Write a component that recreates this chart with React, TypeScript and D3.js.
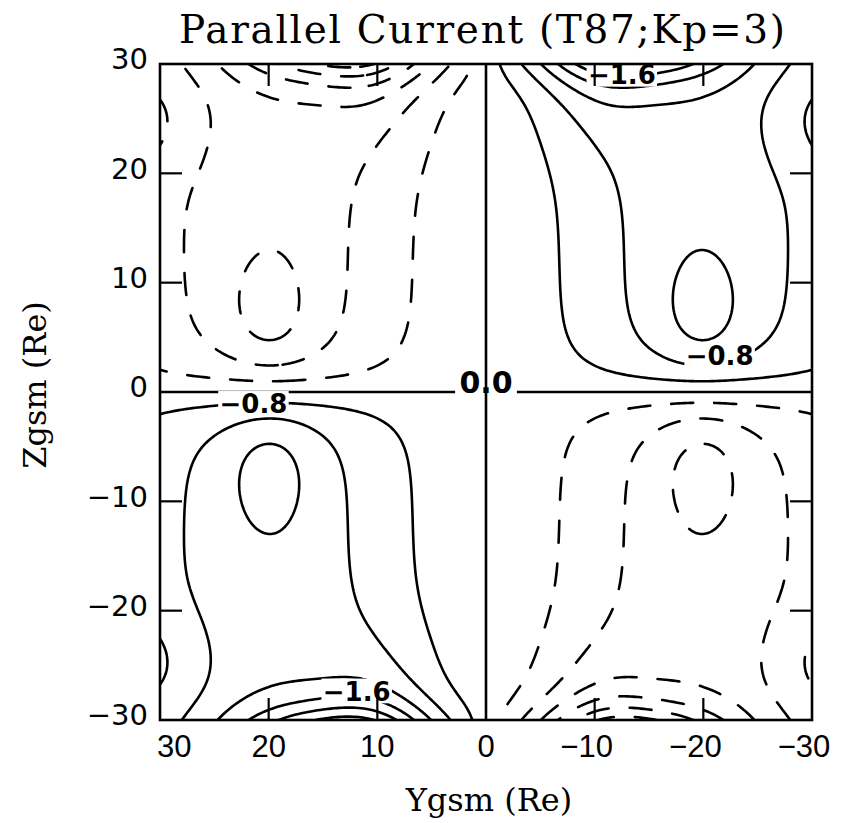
import React from "react";
import * as d3 from "d3";

// ---- texts ----
const titleText = "Parallel Current (T87;Kp=3)";
const xTitle = "Ygsm (Re)";
const yTitle = "Zgsm (Re)";

// ---- axes ----
const yTicksValues = [30, 20, 10, 0, -10, -20, -30]; // Ygsm (reversed axis)
const zTicksValues = [30, 20, 10, 0, -10, -20, -30]; // Zgsm

// ---- contour levels (zero level drawn along the axes) ----
const contourLevels = [-2.4, -2.0, -1.6, -1.2, -0.8, -0.4, 0.4, 0.8, 1.2, 1.6, 2.0, 2.4];

// ---- field sources (in |Y|, |Z| of one quadrant) ----
const srcY = [19.5, 20, 13.5, 10, 30, 31.5];
const srcZ = [15, 7.5, 33, 31, 25, 24];
const srcAmp = [1.05, 0.42, 2.4, 0.55, -0.3, -0.1];
const srcWidthYInner = [13, 3.5, 9.5, 6, 5, 2];
const srcWidthYOuter = [16, 3.5, 9, 5, 5, 2];
const srcWidthZ = [1000, 5.5, 4, 8, 5, 3];
const edgeScaleY = [1.0];
const edgeScaleZ = [2.3];

// ---- contour labels ----
const labelText = ["\u22120.8", "\u22121.6", "\u22120.8", "\u22121.6", "0.0"];
const labelY = [-21.5, -12.5, 21.4, 11.9, 0];
const labelZ = [3.3, 29.0, -1.1, -27.4, 0.9];

function magnitude(u: number, v: number): number {
  let s = 0;
  for (let k = 0; k < srcY.length; k++) {
    const du = u - srcY[k];
    const wu = du < 0 ? srcWidthYInner[k] : srcWidthYOuter[k];
    const dv = v - srcZ[k];
    s += srcAmp[k] * Math.exp(-(du / wu) * (du / wu) - (dv / srcWidthZ[k]) * (dv / srcWidthZ[k]));
  }
  return Math.tanh(u / edgeScaleY[0]) * (1 - Math.exp(-v / edgeScaleZ[0])) * s;
}

function field(Y: number, Z: number): number {
  return Math.sign(Y) * Math.sign(Z) * magnitude(Math.abs(Y), Math.abs(Z));
}

export default function App() {
  const W = 855;
  const H = 823;
  const left = 160, right = 812, top = 64, bottom = 720;
  const x = d3.scaleLinear().domain([30, -30]).range([left, right]);
  const y = d3.scaleLinear().domain([30, -30]).range([top, bottom]);

  const n = 241;
  const step = 60 / (n - 1);
  const values: number[] = new Array(n * n);
  for (let j = 0; j < n; j++) {
    const Z = 30 - j * step;
    for (let i = 0; i < n; i++) {
      const Y = 30 - i * step;
      values[j * n + i] = field(Y, Z);
    }
  }
  const contours = d3.contours().size([n, n]).thresholds(contourLevels)(values);
  const line = d3.line();

  const paths: { d: string; dashed: boolean }[] = [];
  contours.forEach((c) => {
    c.coordinates.forEach((poly) => {
      poly.forEach((ring) => {
        const pts = ring.map((p) => [x(30 - (p[0] - 0.5) * step), y(30 - (p[1] - 0.5) * step)] as [number, number]);
        paths.push({ d: (line(pts) || "") + "Z", dashed: c.value > 0 });
      });
    });
  });

  const tickLen = 22;
  const innerTicks = [20, 10, -10, -20];
  const sw = 2.6;
  const labelFont = "'DejaVu Sans', sans-serif";

  const fmt = (v: number) => (v < 0 ? "\u2212" + Math.abs(v) : String(v));
  const labelSize = (t: string) => (t === "0.0" ? 30 : 26);

  return (
    <svg width={W} height={H} style={{ position: "absolute", left: 0, top: 0, background: "#fff" }}>
      <defs>
        <clipPath id="plotClip">
          <rect x={left} y={top} width={right - left} height={bottom - top} />
        </clipPath>
      </defs>
      <rect x={0} y={0} width={W} height={H} fill="#fff" />
      <text x={482} y={43} textAnchor="middle" fontFamily="'DejaVu Serif', serif" fontSize={39} textLength={606} lengthAdjust="spacing">
        {titleText}
      </text>

      <g clipPath="url(#plotClip)" fill="none" stroke="#000" strokeWidth={sw} strokeLinejoin="round" strokeLinecap="round">
        {paths.map((p, i) => (
          <path key={i} d={p.d} strokeDasharray={p.dashed ? "22 21" : undefined} />
        ))}
        {/* zero contour along Z = 0 */}
        <line x1={left} x2={x(0) - 25} y1={y(0)} y2={y(0)} />
        <line x1={x(0) + 25} x2={right} y1={y(0)} y2={y(0)} />
      </g>

      {labelText.map((t, i) => {
        const fs = labelSize(t);
        const w = t.length * fs * 0.62;
        return (
          <rect key={"lb" + i} x={x(labelY[i]) - w / 2 - 3} y={y(labelZ[i]) - fs * 0.5} width={w + 6} height={fs * 0.95} fill="#fff" />
        );
      })}

      {/* zero contour along Y = 0 */}
      <line x1={x(0)} x2={x(0)} y1={top} y2={bottom} stroke="#000" strokeWidth={sw} />

      {labelText.map((t, i) => (
        <text key={"lt" + i} x={x(labelY[i])} y={y(labelZ[i])} dy="0.36em" textAnchor="middle" fontFamily={labelFont} fontWeight="bold" fontSize={labelSize(t)}>
          {t}
        </text>
      ))}

      {/* frame */}
      <rect x={left} y={top} width={right - left} height={bottom - top} fill="none" stroke="#000" strokeWidth={2.6} />

      {/* inner ticks */}
      <g stroke="#000" strokeWidth={2.2}>
        {innerTicks.map((v) => (
          <g key={"t" + v}>
            <line x1={x(v)} x2={x(v)} y1={bottom} y2={bottom - tickLen} />
            <line x1={x(v)} x2={x(v)} y1={top} y2={top + tickLen} />
            <line x1={left} x2={left + tickLen} y1={y(v)} y2={y(v)} />
            <line x1={right} x2={right - tickLen} y1={y(v)} y2={y(v)} />
          </g>
        ))}
      </g>

      {/* tick labels */}
      {yTicksValues.map((v, i) => (
        <text
          key={"xl" + v}
          x={i === 0 ? x(v) - 3 : x(v) - (v < 0 ? 8 : 0)}
          y={757}
          textAnchor={i === 0 ? "start" : "middle"}
          fontFamily="'Liberation Sans', Arial, sans-serif"
          fontSize={31}
        >
          {fmt(v)}
        </text>
      ))}
      {zTicksValues.map((v) => (
        <text key={"yl" + v} x={148} y={y(v) - 5} dy="0.36em" textAnchor="end" fontFamily="'DejaVu Sans', sans-serif" fontSize={29}>
          {fmt(v)}
        </text>
      ))}

      <text x={489} y={811} textAnchor="middle" fontFamily="'DejaVu Serif', serif" fontSize={32}>
        {xTitle}
      </text>
      <text transform={`translate(46,385) rotate(-90)`} textAnchor="middle" fontFamily="'DejaVu Serif', serif" fontSize={32}>
        {yTitle}
      </text>
    </svg>
  );
}
